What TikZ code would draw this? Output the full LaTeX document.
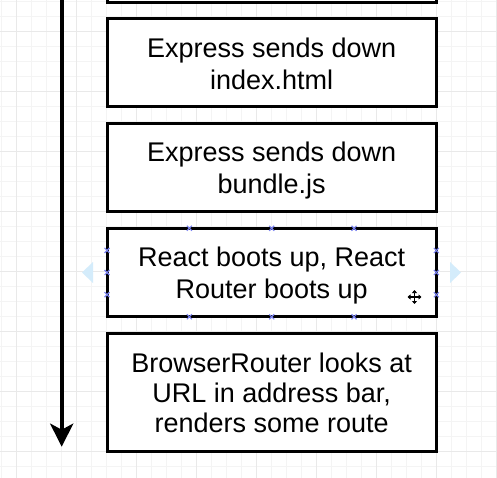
\documentclass[tikz,border=0pt]{standalone}
\usepackage{fontspec}
\setmainfont{Liberation Sans}
\usetikzlibrary{arrows.meta,calc}
\definecolor{gridminor}{HTML}{F4F4F4}
\definecolor{gridmajor}{HTML}{E9E9E9}
\definecolor{handlecol}{HTML}{7C84F2}
\definecolor{hintcol}{HTML}{D4ECFB}
\newcommand\bs{\rule[-4.5pt]{0pt}{30pt}}
\begin{document}
\begin{tikzpicture}[x=1pt,y=-1pt,
  stepbox/.style={draw=black, line width=3pt, fill=white, rectangle,
    minimum width=329.3pt, minimum height=88.5pt, inner sep=0pt, outer sep=0pt,
    align=center, font=\fontsize{27}{30}\selectfont},
  tallbox/.style={stepbox, minimum height=118.5pt},
  flowarrow/.style={draw=black, line width=4.3pt,
    -{Stealth[length=23pt,width=23pt,inset=6pt]}},
  handlemark/.style={draw=handlecol, line width=1.1pt},
  hint/.style={fill=hintcol, draw=none}
]
\useasboundingbox (0,0) rectangle (497,478);
\clip (0,0) rectangle (497,478);
\fill[white] (0,0) rectangle (497,478);
% grid
\foreach \i in {0,...,33} {
  \draw[gridminor, line width=0.8pt] (1.7+15*\i,0) -- (1.7+15*\i,478);
  \draw[gridminor, line width=0.8pt] (0,1.7+15*\i) -- (497,1.7+15*\i);
}
\foreach \i in {0,...,8} {
  \draw[gridmajor, line width=0.8pt] (16.7+60*\i,0) -- (16.7+60*\i,478);
  \draw[gridmajor, line width=0.8pt] (0,31.7+60*\i) -- (497,31.7+60*\i);
}
% boxes
\node[stepbox] (b1) at (271.7,-42.15) {};
\node[stepbox] (b2) at (271.7,62.75) {\bs Express sends down\\index.html\bs};
\node[stepbox] (b3) at (271.7,167.65) {\bs Express sends down\\bundle.js\bs};
\node[stepbox] (b4) at (271.7,272.55) {\bs React boots up, React\\Router boots up\bs};
\node[tallbox] (b5) at (271.7,392.45) {\bs BrowserRouter looks at\\URL in address bar,\\renders some route\bs};
% time arrow
\coordinate (atop) at (61.7,-10);
\coordinate (atip) at (61.7,446.7);
\draw[flowarrow] (atop) -- (atip);
% selection hints around b4
\fill[hint] (82,272.5) -- (93,262) -- (93,283) -- cycle;
\fill[hint] (461,272.5) -- (450,262) -- (450,283) -- cycle;
\foreach \f in {0.25,0.5,0.75} {
  \draw[handlemark] ($(b4.north west)!\f!(b4.north east)$) +(-2.5,-2.5) -- +(2.5,2.5) +(-2.5,2.5) -- +(2.5,-2.5);
  \draw[handlemark] ($(b4.south west)!\f!(b4.south east)$) +(-2.5,-2.5) -- +(2.5,2.5) +(-2.5,2.5) -- +(2.5,-2.5);
  \draw[handlemark] ($(b4.north west)!\f!(b4.south west)$) +(-2.5,-2.5) -- +(2.5,2.5) +(-2.5,2.5) -- +(2.5,-2.5);
  \draw[handlemark] ($(b4.north east)!\f!(b4.south east)$) +(-2.5,-2.5) -- +(2.5,2.5) +(-2.5,2.5) -- +(2.5,-2.5);
}
% move cursor
\coordinate (cur) at (414.5,297);
\draw[white, line width=3.2pt] ($(cur)+(-7.5,0)$) -- ($(cur)+(7.5,0)$) ($(cur)+(0,-7.5)$) -- ($(cur)+(0,7.5)$);
\draw[black, line width=1.2pt, {Triangle[length=3pt,width=5pt]}-{Triangle[length=3pt,width=5pt]}] ($(cur)+(-7,0)$) -- ($(cur)+(7,0)$);
\draw[black, line width=1.2pt, {Triangle[length=3pt,width=5pt]}-{Triangle[length=3pt,width=5pt]}] ($(cur)+(0,-7)$) -- ($(cur)+(0,7)$);
\end{tikzpicture}
\end{document}
